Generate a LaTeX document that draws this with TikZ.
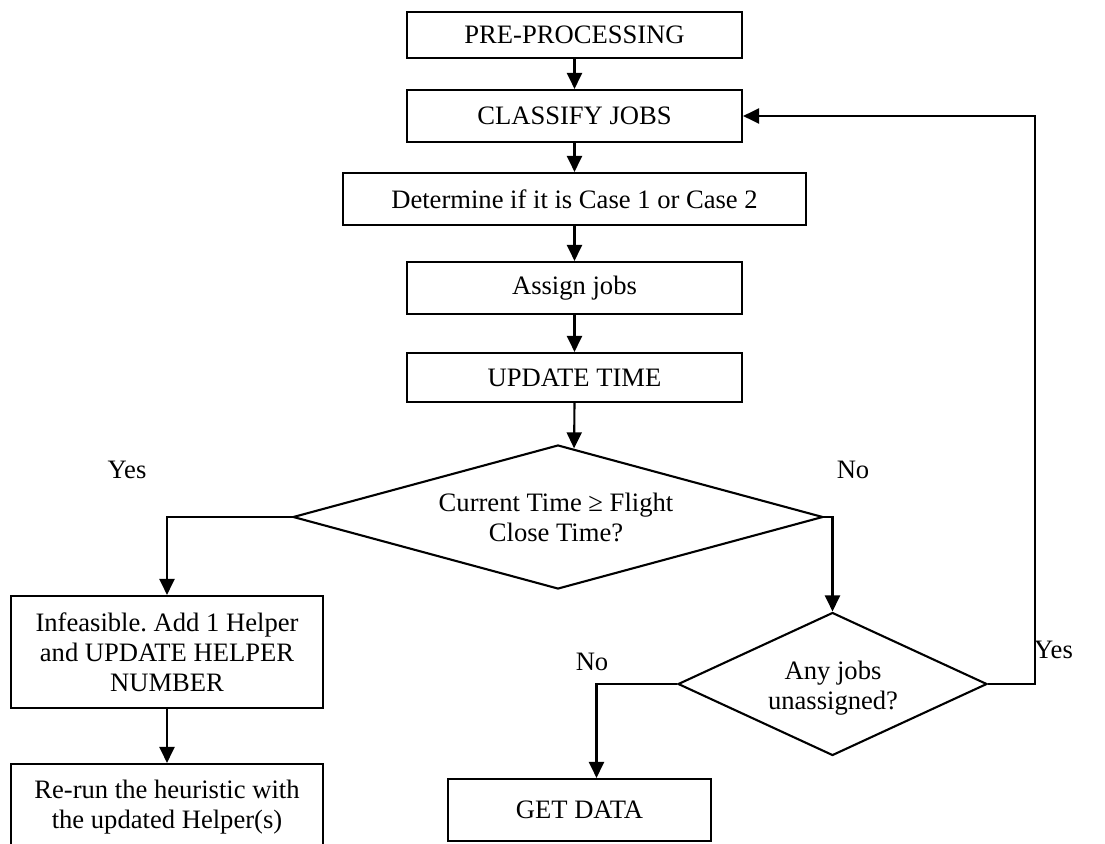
\documentclass[tikz,border=0pt]{standalone}
\usepackage{fontspec}
\setmainfont{Liberation Serif}
\usetikzlibrary{arrows.meta,shapes.geometric,calc}

\tikzset{
  stepbox/.style={draw, line width=2.1pt, rectangle, inner sep=2pt, align=center,
                  font=\fontsize{26.6}{30}\selectfont},
  decision/.style={draw, line width=2.1pt, diamond, inner sep=0pt},
  flowtext/.style={align=center, font=\fontsize{26.6}{30}\selectfont, inner sep=0pt},
  answer/.style={anchor=base, inner sep=0pt, font=\fontsize{26.6}{30}\selectfont},
  flow/.style={line width=2.1pt, -{Triangle[length=16pt,width=15pt]}}
}

\begin{document}
\frenchspacing
\begin{tikzpicture}[x=1pt, y=-1pt]
  \useasboundingbox (0,0) rectangle (1105,843);
  \clip (0,0) rectangle (1105,843);

  % main column of process steps
  \node[stepbox, minimum width=335pt, minimum height=46pt] (pre)
    at (574.5,35) {PRE-PROCESSING};
  \node[stepbox, minimum width=335pt, minimum height=52pt] (classify)
    at (574.5,116) {CLASSIFY JOBS};
  \node[stepbox, minimum width=463pt, minimum height=52pt] (determine)
    at (574.5,199) {Determine if it is Case 1 or Case 2};
  \node[stepbox, minimum width=335pt, minimum height=52pt] (assign)
    at (574.5,288) {Assign jobs};
  \node[stepbox, minimum width=335pt, minimum height=49pt] (update)
    at (574.5,377.5) {UPDATE TIME};

  % first decision: deadline check
  \node[decision, minimum width=530pt, minimum height=144pt] (d1) at (558,517) {};
  \node[flowtext] (d1text) at (556,517) {Current Time ≥ Flight\\Close Time?};

  % infeasible branch
  \node[stepbox, minimum width=312pt, minimum height=112pt] (infeasible)
    at (167,652) {Infeasible. Add 1 Helper\\and UPDATE HELPER\\NUMBER};
  \node[stepbox, minimum width=312pt, minimum height=86pt] (rerun)
    at (167,807) {Re-run the heuristic with\\the updated Helper(s)};

  % second decision: remaining jobs
  \node[decision, minimum width=309pt, minimum height=143pt] (d2) at (832.5,684) {};
  \node[flowtext] (d2text) at (833,688) {Any jobs\\unassigned?};

  \node[stepbox, minimum width=263pt, minimum height=62pt] (getdata)
    at (579.5,810) {GET DATA};

  % branch labels
  \node[answer] (yes1) at (127,478) {Yes};
  \node[answer] (no1)  at (853,478) {No};
  \node[answer] (no2)  at (592,670) {No};
  \node[answer] (yes2) at (1053.5,658) {Yes};

  % connectors
  \draw[flow] (pre) -- (classify);
  \draw[flow] (classify) -- (determine);
  \draw[flow] (determine) -- (assign);
  \draw[flow] (assign) -- (update);
  \draw[flow] (update.south) -- ($(d1.north)!0.0604!(d1.east)$);
  \draw[flow] (d1.west) -| (infeasible.north);
  \draw[flow] (infeasible) -- (rerun);
  \draw[flow] (d1.east) -| (d2.north);
  \draw[flow] (d2.east) -- ++(47,0) |- (classify.east);
  \draw[flow] (d2.west) -| ([xshift=17pt]getdata.north);
\end{tikzpicture}
\end{document}
